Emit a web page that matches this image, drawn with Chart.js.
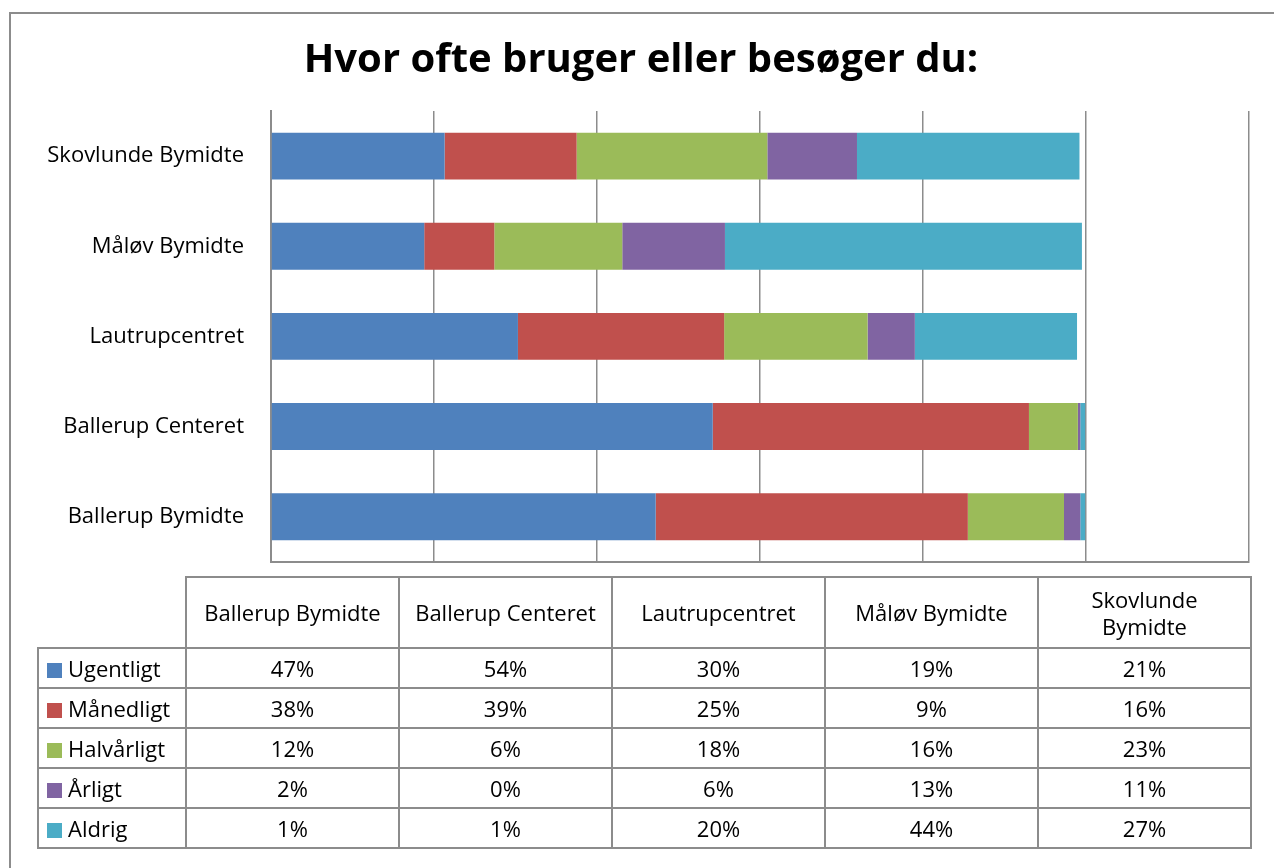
<!DOCTYPE html>
<html>
<head>
<meta charset="utf-8">
<script src="https://cdn.jsdelivr.net/npm/chart.js@4.4.0/dist/chart.umd.min.js"></script>
<style>
  body { margin: 0; background: #fff; overflow: hidden; width: 1274px; height: 868px; position: relative; font-family: "Open Sans", sans-serif; }
  #frame { position: absolute; left: 9px; top: 12px; width: 1400px; height: 1000px; border-left: 2px solid #8c8c8c; border-top: 2px solid #8c8c8c; }
  #chart { position: absolute; left: 0; top: 0; }
  #tbl { position: absolute; left: 37px; top: 576px; width: 1211px; table-layout: fixed; border-collapse: collapse; font-size: 22px; color: #000; }
  #tbl td, #tbl th { border: 2px solid #8c8c8c; padding: 0; text-align: center; font-weight: normal; }
  #tbl th { height: 69px; padding: 0 14px; line-height: 1.2; }
  #tbl td { height: 38px; }
  #tbl th.corner { border-top: none; border-left: none; }
  #tbl td.lab { text-align: left; padding-left: 8px; white-space: nowrap; }
  .sw { display: inline-block; width: 15px; height: 15px; margin-right: 6px; vertical-align: -1px; }
</style>
</head>
<body>
<div id="frame"></div>
<canvas id="chart" width="1274" height="602"></canvas>
<table id="tbl"></table>
<script>
// categories as in the data table (left to right); bars drawn bottom-up
const categories = ["Ballerup Bymidte", "Ballerup Centeret", "Lautrupcentret", "Måløv Bymidte", "Skovlunde Bymidte"];
const seriesNames = ["Ugentligt", "Månedligt", "Halvårligt", "Årligt", "Aldrig"];
const colors = ["#4F81BD", "#C0504D", "#9BBB59", "#8064A2", "#4BACC6"];

// percent values (they round to the table)
const ugentligt = [47.2, 54.2, 30.3, 18.8, 21.3];
const maanedligt = [38.3, 38.8, 25.3, 8.6, 16.2];
const halvaarligt = [11.8, 6.0, 17.6, 15.7, 23.4];
const aarligt = [2.0, 0.3, 5.8, 12.6, 11.0];
const aldrig = [0.6, 0.6, 19.9, 43.8, 27.3];

const seriesValues = [ugentligt, maanedligt, halvaarligt, aarligt, aldrig];

const fontFam = '"Open Sans", sans-serif';

let datasets = [];
for (let i = 0; i < seriesNames.length; i++) {
  datasets.push({
    label: seriesNames[i],
    data: seriesValues[i],
    backgroundColor: colors[i],
    borderWidth: 0,
    barPercentage: 0.52,
    categoryPercentage: 1
  });
}

const ctx = document.getElementById("chart").getContext("2d");
const chart = new Chart(ctx, {
  type: "bar",
  data: { labels: categories, datasets: datasets },
  options: {
    responsive: false,
    animation: false,
    indexAxis: "y",
    layout: { padding: { left: 33, right: 25, top: 3, bottom: 11 } },
    plugins: {
      legend: { display: false },
      tooltip: { enabled: false },
      title: {
        display: true,
        text: "Hvor ofte bruger eller besøger du:",
        color: "#000",
        font: { family: fontFam, size: 40, weight: "bold", lineHeight: 1.2 },
        padding: { top: 34, bottom: 26 }
      }
    },
    scales: {
      x: {
        stacked: true,
        min: 0,
        max: 120,
        ticks: { display: false, stepSize: 20 },
        grid: { color: "#8c8c8c", lineWidth: 1.5, drawTicks: false },
        border: { display: true, color: "#8c8c8c", width: 2 }
      },
      y: {
        stacked: true,
        reverse: true,
        grid: { display: false, drawTicks: false },
        border: { display: true, color: "#8c8c8c", width: 2 },
        ticks: { color: "#000", padding: 27, font: { family: fontFam, size: 22 } },
        afterFit: function (scale) { scale.width = 238; }
      }
    }
  }
});

// data table under the chart
const tbl = document.getElementById("tbl");
let head = '<colgroup><col style="width:148px">';
for (let c = 0; c < categories.length; c++) head += '<col style="width:213px">';
head += '</colgroup><tr><th class="corner"></th>';
for (let c = 0; c < categories.length; c++) {
  head += '<th>' + categories[c] + '</th>';
}
head += '</tr>';
let rows = "";
for (let i = 0; i < seriesNames.length; i++) {
  rows += '<tr><td class="lab"><span class="sw" style="background:' + colors[i] + '"></span>' + seriesNames[i] + '</td>';
  for (let c = 0; c < categories.length; c++) {
    rows += '<td>' + Math.round(seriesValues[i][c]) + '%</td>';
  }
  rows += '</tr>';
}
tbl.innerHTML = head + rows;
</script>
</body>
</html>
